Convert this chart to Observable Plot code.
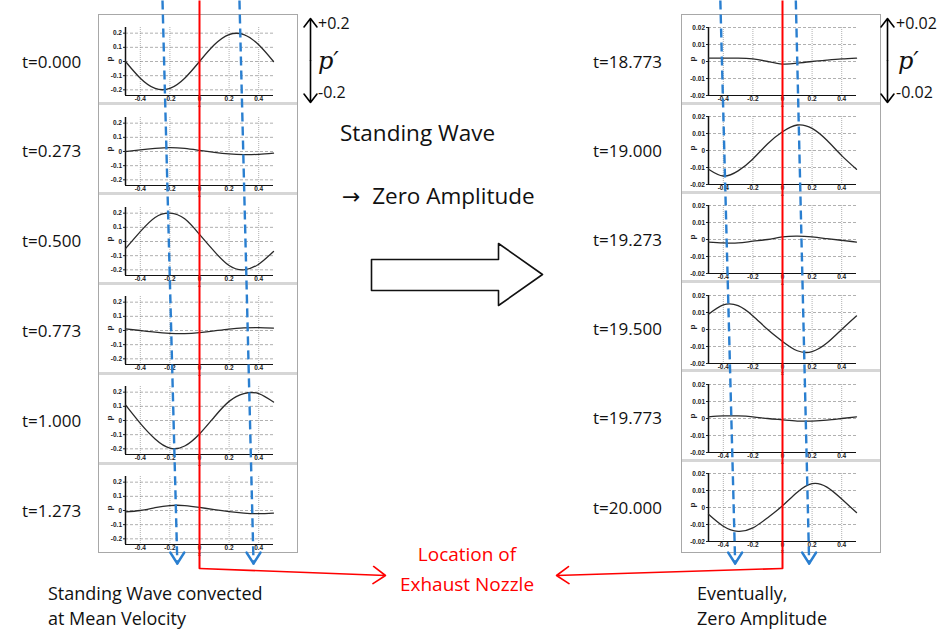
<!DOCTYPE html>
<html><head><meta charset="utf-8">
<script src="https://cdn.jsdelivr.net/npm/d3@7"></script>
<script src="https://cdn.jsdelivr.net/npm/@observablehq/plot@0.6"></script>
<style>
body{margin:0;background:#fff;}
#root{position:relative;width:948px;height:630px;overflow:hidden;font-family:"Open Sans",sans-serif;color:#111;}
.col{position:absolute;background:#fff;border:1px solid #a8a8a8;box-sizing:border-box;}
.sep{position:absolute;background:#d6d6d6;}
.panel{position:absolute;background:transparent;}
.panel svg{overflow:visible;display:block;}
.lbl{position:absolute;white-space:nowrap;line-height:1;}
#overlay{position:absolute;left:0;top:0;pointer-events:none;}
</style></head><body><div id="root"></div>
<script>
// ---------- data ----------
const xGrid = [-0.5,-0.4,-0.3,-0.2,-0.1,0,0.1,0.2,0.3,0.4,0.5];
const xTicks = [-0.4,-0.2,0,0.2,0.4];
const leftYTicks = [-0.2,-0.1,0,0.1,0.2];
const rightYTicks = [-0.02,-0.01,0,0.01,0.02];
const leftTimes = ["t=0.000","t=0.273","t=0.500","t=0.773","t=1.000","t=1.273"];
const rightTimes = ["t=18.773","t=19.000","t=19.273","t=19.500","t=19.773","t=20.000"];
// left column p' (read at xGrid)
const pT0000 = [0.0,-0.118,-0.19,-0.19,-0.118,0.0,0.118,0.19,0.19,0.118,0.0];
const pT0273 = [0.0,0.012,0.022,0.028,0.022,0.008,-0.006,-0.017,-0.022,-0.02,-0.012];
const pT0500 = [-0.05,0.07,0.17,0.2,0.16,0.05,-0.07,-0.17,-0.2,-0.16,-0.07];
const pT0773 = [0.012,0.0,-0.012,-0.02,-0.022,-0.015,-0.003,0.01,0.018,0.02,0.017];
const pT1000 = [0.11,-0.02,-0.13,-0.195,-0.18,-0.095,0.025,0.135,0.19,0.19,0.13];
const pT1273 = [-0.01,0.0,0.02,0.035,0.035,0.022,0.006,-0.008,-0.018,-0.022,-0.018];
// right column p'
const pT18773 = [0.002,0.002,0.002,0.0015,0.0,-0.0015,-0.001,0.0,0.0008,0.0015,0.002];
const pT19000 = [-0.011,-0.015,-0.012,-0.005,0.004,0.011,0.015,0.013,0.006,-0.003,-0.011];
const pT19273 = [-0.0015,-0.002,-0.002,-0.001,0.0,0.0015,0.002,0.0015,0.0005,-0.0005,-0.0015];
const pT19500 = [0.009,0.0145,0.014,0.008,0.0,-0.007,-0.0125,-0.013,-0.008,0.0,0.008];
const pT19773 = [0.001,0.0015,0.0015,0.001,0.0,-0.0008,-0.0015,-0.0015,-0.001,0.0,0.001];
const pT20000 = [-0.004,-0.011,-0.014,-0.012,-0.006,0.001,0.009,0.014,0.012,0.005,-0.003];
// convected guide positions (data x at top and bottom of column)
const leftGuidesTop = [-0.25, 0.27];
const leftGuidesBottom = [-0.15, 0.365];
const rightGuidesTop = [-0.42, 0.09];
const rightGuidesBottom = [-0.32, 0.18];
const nozzleX = 0;

// ---------- layout ----------
const W = 948, H = 630;
const PW = 198, PH = 87;
const M = {left:26, right:24, top:12, bottom:7};
const LX = 99, RX = 682;
const colTop = 15, colBottom = 552;
const leftStep = 89.8, rightStep = 89.2;
const root = document.getElementById("root");

const fmt = d => d === 0 ? "0" : String(d);

function makePanel(ys, yDomain, yTicks){
  const data = xGrid.map((x,i)=>({x, y: ys[i]}));
  return Plot.plot({
    width: PW, height: PH,
    marginLeft: M.left, marginRight: M.right, marginTop: M.top, marginBottom: M.bottom,
    style: {fontFamily: "'Liberation Sans', Arial, sans-serif", fontSize: "6.5px", fontWeight: "bold", background: "transparent", color:"#222"},
    x: {domain: [-0.5, 0.5]},
    y: {domain: yDomain},
    marks: [
      Plot.gridY(yTicks, {stroke:"#7a7a7a", strokeOpacity:1, strokeDasharray:"3,2", strokeWidth:0.6}),
      Plot.gridX(xTicks, {stroke:"#7a7a7a", strokeOpacity:1, strokeDasharray:"1,1", strokeWidth:0.6}),
      Plot.axisX(xTicks, {tickSize:0, tickPadding:1, tickFormat: fmt, label:null, fontSize:6.5}),
      Plot.axisY(yTicks, {tickSize:2, tickPadding:1.5, tickFormat: fmt, label:null, fontSize:6.5}),
      Plot.ruleX([-0.5], {stroke:"#111", strokeWidth:1.5}),
      Plot.ruleY([yDomain[0]], {stroke:"#111", strokeWidth:1.2}),
      Plot.line(data, {x:"x", y:"y", curve:"natural", stroke:"#2a2a2a", strokeWidth:1.3}),
      Plot.text(["p"], {text: d=>d, frameAnchor:"left", dx:-16, rotate:-90, fontSize:8, fontWeight:"bold"}),
      Plot.text(["x"], {text: d=>d, frameAnchor:"bottom", dy:11, fontSize:5})
    ]
  });
}

function addColumn(left, step, series, yDomain, yTicks, times, labelX){
  const col = document.createElement("div");
  col.className = "col";
  Object.assign(col.style, {left:(left-1)+"px", top:(colTop-1)+"px", width:(PW+2)+"px", height:(colBottom-colTop+2)+"px"});
  root.appendChild(col);
  let scaleX = null;
  series.forEach((ys,i)=>{
    const top = colTop + i*step;
    if (i > 0) {
      const s = document.createElement("div");
      s.className = "sep";
      Object.assign(s.style, {left:left+"px", top:(top-2.5)+"px", width:PW+"px", height:"3px"});
      root.appendChild(s);
    }
    const div = document.createElement("div");
    div.className = "panel";
    Object.assign(div.style, {left:(left)+"px", top:top+"px", width:PW+"px", height:PH+"px"});
    const chart = makePanel(ys, yDomain, yTicks);
    scaleX = chart.scale("x");
    div.appendChild(chart);
    root.appendChild(div);
    const t = document.createElement("div");
    t.className = "lbl";
    t.textContent = times[i];
    Object.assign(t.style, {left:labelX+"px", top:(top + PH/2 - 6)+"px", fontSize:"17px"});
    root.appendChild(t);
  });
  return scaleX;
}

const sxL = addColumn(LX, leftStep, [pT0000,pT0273,pT0500,pT0773,pT1000,pT1273], [-0.24,0.24], leftYTicks, leftTimes, 22);
const sxR = addColumn(RX, rightStep, [pT18773,pT19000,pT19273,pT19500,pT19773,pT20000], [-0.02,0.02], rightYTicks, rightTimes, 593);

const pxL = v => LX + sxL.apply(v);
const pxR = v => RX + sxR.apply(v);

// ---------- overlay ----------
const guideEnd = 562, headTip = 563, headHalf = 7, headRise = 11, redBottom = 568, redArrowY = 575;
const redX_L = pxL(nozzleX), redX_R = pxR(nozzleX);
const redLinks = [
  {x1: redX_L, y1: 0, x2: redX_L, y2: redBottom},
  {x1: redX_R, y1: 0, x2: redX_R, y2: redBottom}
];
const redArrows = [
  {x1: redX_L, y1: redBottom, x2: 385, y2: redArrowY},
  {x1: redX_R, y1: redBottom, x2: 556, y2: redArrowY}
];
const guides = [];
leftGuidesTop.forEach((v,i)=>guides.push({x1:pxL(v), y1:0, x2:pxL(leftGuidesBottom[i]), y2:guideEnd}));
rightGuidesTop.forEach((v,i)=>guides.push({x1:pxR(v), y1:0, x2:pxR(rightGuidesBottom[i]), y2:guideEnd}));
const guideHeads = [];
guides.forEach(g=>{
  guideHeads.push({x1:g.x2 - headHalf, y1:headTip - headRise, x2:g.x2, y2:headTip});
  guideHeads.push({x1:g.x2 + headHalf, y1:headTip - headRise, x2:g.x2, y2:headTip});
});
const dbl = [
  {x1:310, y1:60, x2:310, y2:18}, {x1:310, y1:60, x2:310, y2:102},
  {x1:887, y1:60, x2:887, y2:18}, {x1:887, y1:60, x2:887, y2:102}
];
const bigArrow = [[371,259],[498,259],[498,243],[542,274],[498,305],[498,290],[371,290],[371,259]];

const overlay = Plot.plot({
  width: W, height: H, margin: 0,
  x: {type:"identity", axis:null}, y: {type:"identity", axis:null},
  style: {background:"transparent", overflow:"visible"},
  marks: [
    Plot.line(bigArrow, {x: d=>d[0], y: d=>d[1], stroke:"#111", strokeWidth:1.6, curve:"linear"}),
    Plot.link(guides, {x1:"x1", y1:"y1", x2:"x2", y2:"y2", stroke:"#2a7fd0", strokeWidth:2.4, strokeDasharray:"9,5"}),
    Plot.link(guideHeads, {x1:"x1", y1:"y1", x2:"x2", y2:"y2", stroke:"#2a7fd0", strokeWidth:2.4, strokeLinecap:"round"}),
    Plot.link(redLinks, {x1:"x1", y1:"y1", x2:"x2", y2:"y2", stroke:"#ff0000", strokeWidth:2}),
    Plot.arrow(redArrows, {x1:"x1", y1:"y1", x2:"x2", y2:"y2", stroke:"#ff0000", strokeWidth:1.6, headLength:14, headAngle:70}),
    Plot.arrow(dbl, {x1:"x1", y1:"y1", x2:"x2", y2:"y2", stroke:"#000", strokeWidth:1.6, headLength:10, headAngle:75})
  ]
});
overlay.id = "overlay";
root.appendChild(overlay);

// ---------- text ----------
function label(text, x, y, size, extra){
  const d = document.createElement("div");
  d.className = "lbl";
  d.textContent = text;
  Object.assign(d.style, {left:x+"px", top:y+"px", fontSize:size+"px"}, extra||{});
  root.appendChild(d);
  return d;
}
label("+0.2", 318, 15, 16);
label("p\u2032", 318, 49, 24, {fontFamily:"'DejaVu Serif', serif", fontStyle:"italic"});
label("-0.2", 318, 84, 16);
label("+0.02", 896, 15, 16);
label("p\u2032", 898, 49, 24, {fontFamily:"'DejaVu Serif', serif", fontStyle:"italic"});
label("-0.02", 896, 84, 16);
label("Standing Wave", 340, 122, 22.5);
const z = label("", 342, 185, 22.5);
z.innerHTML = '<span style="font-family:\'DejaVu Sans\',sans-serif;font-size:22px">\u2192</span>&nbsp; Zero Amplitude';
label("Location of", 367, 545, 19, {color:"#ff0000", width:"200px", textAlign:"center"});
label("Exhaust Nozzle", 367, 575, 19, {color:"#ff0000", width:"200px", textAlign:"center"});
label("Standing Wave convected", 48, 584, 18);
label("at Mean Velocity", 48, 609, 18);
label("Eventually,", 697, 584, 18);
label("Zero Amplitude", 697, 609, 18);
</script></body></html>
